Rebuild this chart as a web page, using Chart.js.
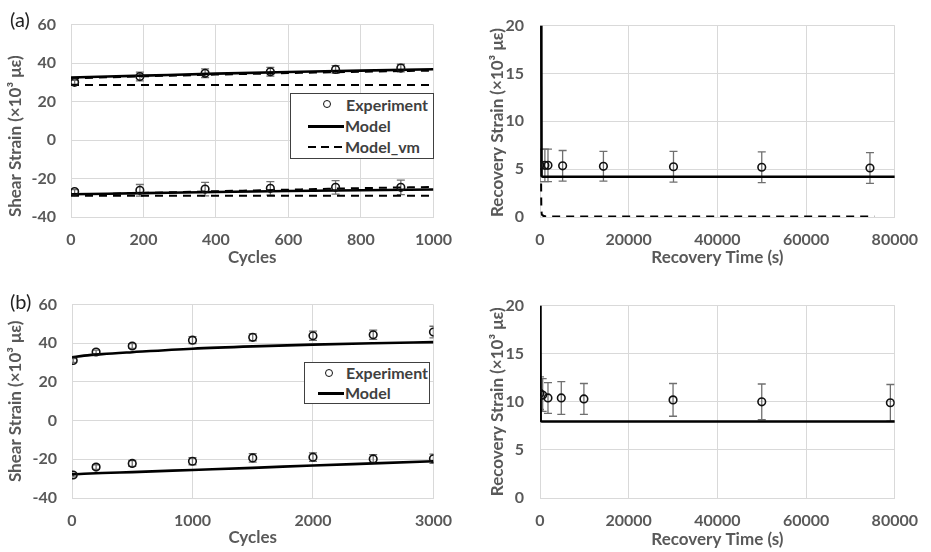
<!DOCTYPE html>
<html>
<head>
<meta charset="utf-8">
<script src="https://cdn.jsdelivr.net/npm/chart.js@4.4.1/dist/chart.umd.min.js"></script>
<style>
body { margin: 0; background: #fff; }
#wrap { position: relative; width: 931px; height: 552px; overflow: hidden; }
canvas { position: absolute; }
.tag { position: absolute; font: 20px Lato, sans-serif; color: #222; line-height: 20px; }
.legend { position: absolute; border: 1px solid #404040; background: #fff; z-index: 2;
  font: bold 16px Lato, sans-serif; color: #404040; }
.legend .txt { position: absolute; line-height: 20px; white-space: nowrap; }
.legend .circ { position: absolute; width: 6px; height: 6px; border: 1.8px solid #111; border-radius: 50%; }
.legend .solid { position: absolute; height: 2.5px; background: #000; }
.legend .dash { position: absolute; height: 2px;
  background: repeating-linear-gradient(to right, #000 0 8px, transparent 8px 13px); }
</style>
</head>
<body>
<div id="wrap">
  <canvas id="cA" width="465" height="276" style="left:0;top:0"></canvas>
  <canvas id="cB" width="461" height="276" style="left:470px;top:0"></canvas>
  <canvas id="cC" width="465" height="272" style="left:0;top:280px"></canvas>
  <canvas id="cD" width="461" height="272" style="left:470px;top:280px"></canvas>

  <div class="tag" style="left:10px;top:9px">(a)</div>
  <div class="tag" style="left:10px;top:291px">(b)</div>

  <div class="legend" style="left:290px;top:93px;width:142px;height:64px">
    <div class="circ" style="left:32px;top:6px"></div>
    <div class="txt" style="left:55px;top:1px">Experiment</div>
    <div class="solid" style="left:17px;top:31px;width:36px"></div>
    <div class="txt" style="left:54px;top:22px">Model</div>
    <div class="dash" style="left:17px;top:52px;width:36px"></div>
    <div class="txt" style="left:54px;top:43px">Model_vm</div>
  </div>

  <div class="legend" style="left:304px;top:362px;width:124px;height:40px">
    <div class="circ" style="left:20px;top:6px"></div>
    <div class="txt" style="left:41px;top:0px">Experiment</div>
    <div class="solid" style="left:13px;top:29px;width:26px"></div>
    <div class="txt" style="left:40px;top:20px">Model</div>
  </div>
</div>

<script>
// (a) shear strain vs cycles
var cyclesA = [10, 190, 370, 550, 730, 910];
var expTopA = [30.0, 33.0, 34.7, 35.5, 36.7, 37.4];
var errTopA = [1.0, 2.3, 2.3, 2.3, 2.0, 2.0];
var expBotA = [-26.8, -26.1, -25.5, -25.1, -24.6, -24.6];
var errBotA = [1.0, 3.0, 3.5, 3.5, 3.5, 3.8];
var modelCyclesA = [0, 100, 200, 400, 600, 800, 1000];
var modelTopA = [32.5, 33.0, 33.5, 34.5, 35.4, 36.1, 36.8];
var modelBotA = [-28.2, -27.9, -27.6, -27.0, -26.5, -26.1, -25.7];
var vmTopA = [32.0, 32.6, 33.1, 34.0, 34.8, 35.5, 36.1];
var vmBotA = [-28.6, -28.0, -27.5, -26.6, -25.8, -25.0, -24.4];
var vmFlatTopA = [28.6, 28.6, 28.6, 28.6, 28.6, 28.6, 28.6];
var vmFlatBotA = [-28.9, -28.9, -28.9, -28.9, -28.9, -28.9, -28.9];

// (a) recovery strain vs time
var timeB = [0, 1100, 1800, 5100, 14300, 30100, 50000, 74400];
var expB = [5.4, 5.4, 5.4, 5.35, 5.3, 5.25, 5.2, 5.12];
var errB = [1.7, 1.7, 1.7, 1.6, 1.55, 1.6, 1.6, 1.6];
var modelTimeB = [300, 350, 600, 80000];
var modelB = [20, 4.3, 4.2, 4.2];
var vmTimeB = [250, 300, 500, 1500, 75400];
var vmB = [3.5, 1.0, 0.2, 0.05, 0.05];

// (b) shear strain vs cycles
var cyclesC = [10, 200, 500, 1000, 1500, 2000, 2500, 3000];
var expTopC = [31.1, 35.5, 38.6, 41.6, 43.1, 43.9, 44.4, 45.8];
var errTopC = [1.0, 1.0, 1.2, 1.8, 1.8, 2.4, 2.4, 3.0];
var expBotC = [-28.1, -24.0, -22.1, -21.0, -19.3, -18.9, -19.8, -19.7];
var errBotC = [1.0, 1.2, 1.5, 1.8, 2.2, 2.2, 2.2, 2.4];
var modelCyclesC = [0, 100, 250, 500, 1000, 1500, 2000, 2500, 3000];
var modelTopC = [32.8, 33.6, 34.4, 35.4, 37.2, 38.4, 39.3, 40.0, 40.6];
var modelBotC = [-27.8, -27.5, -27.1, -26.6, -25.5, -24.4, -23.2, -22.1, -21.0];

// (b) recovery strain vs time
var timeD = [0, 600, 1800, 4800, 9900, 30000, 50000, 79000];
var expD = [10.9, 10.7, 10.4, 10.4, 10.3, 10.2, 10.0, 9.9];
var errD = [1.7, 1.7, 1.6, 1.7, 1.6, 1.7, 1.85, 1.9];
var modelTimeD = [100, 150, 400, 80000];
var modelD = [20, 8.1, 7.95, 7.95];

Chart.defaults.font.family = 'Lato, sans-serif';
Chart.defaults.color = '#595959';
Chart.defaults.animation = false;

function pts(xs, ys) {
  return xs.map(function (x, i) { return {x: x, y: ys[i]}; });
}

// vertical error segments, broken by a null point
function errBars(xs, ys, errs) {
  var d = [];
  for (var i = 0; i < xs.length; i++) {
    d.push({x: xs[i], y: ys[i] - errs[i]}, {x: xs[i], y: ys[i] + errs[i]}, {x: xs[i], y: null});
  }
  return d;
}

function expSet(xs, ys) {
  return {data: pts(xs, ys), showLine: false, pointStyle: 'circle', pointRadius: 3.8,
    pointBorderWidth: 1.6, borderColor: '#111', backgroundColor: 'rgba(255,255,255,0)', order: 0};
}
function errSet(xs, ys, errs) {
  return {data: errBars(xs, ys, errs), showLine: true, spanGaps: false, borderColor: '#6f6f6f',
    borderWidth: 1.3, pointStyle: 'line', pointRadius: 4, pointBorderColor: '#6f6f6f',
    pointBorderWidth: 1.3, order: 2};
}
function lineSet(xs, ys, dashed) {
  return {data: pts(xs, ys), showLine: true, borderColor: '#000', borderWidth: dashed ? 2 : 2.6,
    borderDash: dashed ? [8, 6] : [], pointRadius: 0, cubicInterpolationMode: 'monotone', order: 1};
}

function makeChart(id, datasets, o) {
  new Chart(document.getElementById(id), {
    type: 'scatter',
    data: {datasets: datasets},
    options: {
      responsive: false,
      layout: {padding: {top: o.padTop, right: o.padRight, left: 0, bottom: 0}},
      plugins: {legend: {display: false}, tooltip: {enabled: false}},
      scales: {
        x: {
          min: o.xMin, max: o.xMax,
          ticks: {stepSize: o.xStep, padding: 13, maxRotation: 0, font: {size: 16, weight: 'bold'},
            callback: function (v) { return String(v); }},
          grid: {color: '#d9d9d9', drawTicks: false},
          border: {color: '#d9d9d9'},
          title: {display: true, text: o.xTitle, font: {size: 17, weight: 'bold'},
            padding: {top: 0, bottom: o.xTitlePad}},
          afterFit: function (s) { s.height = o.xH; }
        },
        y: {
          min: o.yMin, max: o.yMax,
          ticks: {stepSize: o.yStep, padding: o.yTickPad, font: {size: 16, weight: 'bold'}},
          grid: {color: '#d9d9d9', drawTicks: false},
          border: {color: '#d9d9d9'},
          title: {display: true, text: o.yTitle, align: o.yAlign, font: {size: 17, weight: 'bold'},
            padding: {top: o.yTitlePad, bottom: 0}},
          afterFit: function (s) { s.width = o.yW; }
        }
      }
    }
  });
}

var shearTitle = 'Shear Strain (×10³ με)';
var recTitle = 'Recovery Strain (×10³ με)';

makeChart('cA', [
  expSet(cyclesA, expTopA), expSet(cyclesA, expBotA),
  errSet(cyclesA, expTopA, errTopA), errSet(cyclesA, expBotA, errBotA),
  lineSet(modelCyclesA, modelTopA, false), lineSet(modelCyclesA, modelBotA, false),
  lineSet(modelCyclesA, vmTopA, true), lineSet(modelCyclesA, vmBotA, true),
  lineSet(modelCyclesA, vmFlatTopA, true), lineSet(modelCyclesA, vmFlatBotA, true)
], {padTop: 15, padRight: 26, xMin: 0, xMax: 1000, xStep: 200, yMin: -40, yMax: 60, yStep: 20,
    xTitle: 'Cycles', yTitle: shearTitle, xH: 59, yW: 71, xTitlePad: 8, yTitlePad: 5,
    yTickPad: 15, yAlign: 'start'});

makeChart('cB', [
  expSet(timeB, expB), errSet(timeB, expB, errB),
  lineSet(modelTimeB, modelB, false), lineSet(vmTimeB, vmB, true)
], {padTop: 15, padRight: 27, xMin: 0, xMax: 80000, xStep: 20000, yMin: 0, yMax: 20, yStep: 5,
    xTitle: 'Recovery Time (s)', yTitle: recTitle, xH: 59, yW: 70, xTitlePad: 8, yTitlePad: 17,
    yTickPad: 16, yAlign: 'start'});

makeChart('cC', [
  expSet(cyclesC, expTopC), expSet(cyclesC, expBotC),
  errSet(cyclesC, expTopC, errTopC), errSet(cyclesC, expBotC, errBotC),
  lineSet(modelCyclesC, modelTopC, false), lineSet(modelCyclesC, modelBotC, false)
], {padTop: 17, padRight: 27, xMin: 0, xMax: 3000, xStep: 1000, yMin: -40, yMax: 60, yStep: 20,
    xTitle: 'Cycles', yTitle: shearTitle, xH: 54, yW: 72, xTitlePad: 4, yTitlePad: 5,
    yTickPad: 15, yAlign: 'center'});

makeChart('cD', [
  expSet(timeD, expD), errSet(timeD, expD, errD),
  lineSet(modelTimeD, modelD, false)
], {padTop: 16, padRight: 28, xMin: 0, xMax: 80000, xStep: 20000, yMin: 0, yMax: 20, yStep: 5,
    xTitle: 'Recovery Time (s)', yTitle: recTitle, xH: 54, yW: 70, xTitlePad: 2, yTitlePad: 17,
    yTickPad: 16, yAlign: 'center'});
</script>
</body>
</html>
